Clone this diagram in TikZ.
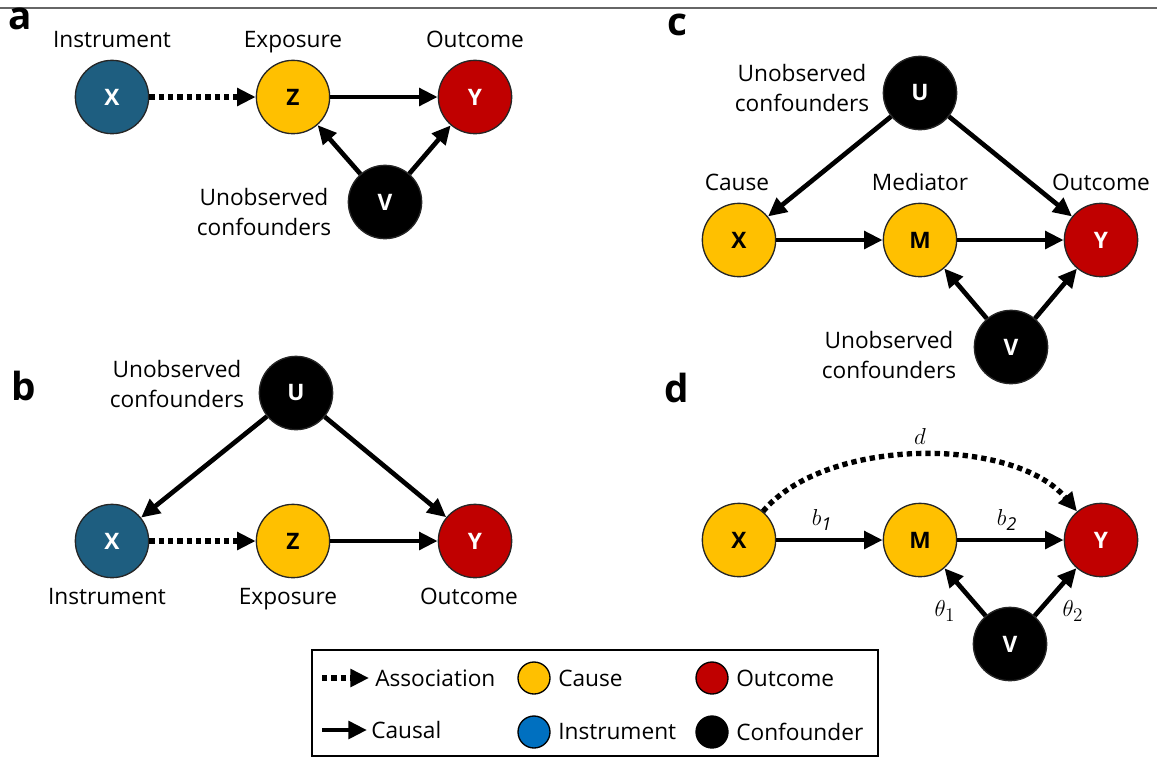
\documentclass[tikz,border=0pt]{standalone}
\usepackage{fontspec}
\setmainfont{Open Sans}
\usetikzlibrary{arrows.meta,positioning}
\definecolor{causeyellow}{RGB}{255,192,0}
\definecolor{outcomered}{RGB}{192,0,0}
\definecolor{instrteal}{RGB}{30,94,128}
\definecolor{keyblue}{RGB}{0,112,192}

\begin{document}
\begin{tikzpicture}[
      x=0.75pt, y=-0.75pt,
      var/.style={circle, draw=black!85, line width=1pt, minimum size=55pt, inner sep=0pt,
                  font=\fontsize{17}{20}\selectfont\bfseries},
      cause/.style={var, fill=causeyellow, text=black},
      outc/.style={var, fill=outcomered, text=white},
      instr/.style={var, fill=instrteal, text=white},
      conf/.style={var, fill=black, text=white},
      lab/.style={font=\fontsize{17}{23}\selectfont, align=center, inner sep=0pt},
      panel/.style={font=\fontsize{29}{30}\selectfont\bfseries, inner sep=0pt},
      coef/.style={font=\fontsize{19}{20}\selectfont, inner sep=0pt},
      causal/.style={-{Triangle[length=14pt, width=13pt]}, line width=3.5pt},
      assoc/.style={causal, line width=4pt, dash pattern=on 4pt off 3pt},
      key/.style={circle, draw=black, line width=1pt, minimum size=24pt, inner sep=0pt},
    ]
    \useasboundingbox (0,0) rectangle (1157,758);
    \draw[black!60, line width=1.2pt] (0,8) -- (1157,8);

    % panel a
    \node[panel] (pa) at (20,19) {a};
    \node[instr] (Xa) at (112,97) {X};
    \node[cause] (Za) at (293,97) {Z};
    \node[outc] (Ya) at (475,97) {Y};
    \node[conf] (Va) at (385,202) {V};
    \node[lab, anchor=base] (Xalab) at (112,47) {Instrument};
    \node[lab, anchor=base] (Zalab) at (293,47) {Exposure};
    \node[lab, anchor=base] (Yalab) at (475,47) {Outcome};
    \node[lab] (Valab) at (264,212) {Unobserved\\confounders};
    \draw[assoc] (Xa) -- (Za);
    \draw[causal] (Za) -- (Ya);
    \draw[causal] (Va) -- (Za);
    \draw[causal] (Va) -- (Ya);

    % panel b
    \node[panel] (pb) at (24,386) {b};
    \node[conf] (Ub) at (296,393) {U};
    \node[instr] (Xb) at (112,541) {X};
    \node[cause] (Zb) at (293,541) {Z};
    \node[outc] (Yb) at (475,541) {Y};
    \node[lab] (Ublab) at (177,384) {Unobserved\\confounders};
    \node[lab, anchor=base] (Xblab) at (107,604) {Instrument};
    \node[lab, anchor=base] (Zblab) at (288,604) {Exposure};
    \node[lab, anchor=base] (Yblab) at (469,604) {Outcome};
    \draw[causal] (Ub) -- (Xb);
    \draw[causal] (Ub) -- (Yb);
    \draw[assoc] (Xb) -- (Zb);
    \draw[causal] (Zb) -- (Yb);

    % panel c
    \node[panel] (pc) at (677,25) {c};
    \node[conf] (Uc) at (920,93) {U};
    \node[cause] (Xc) at (739,240) {X};
    \node[cause] (Mc) at (920,240) {M};
    \node[outc] (Yc) at (1101,240) {Y};
    \node[conf] (Vc) at (1011,347) {V};
    \node[lab] (Uclab) at (802,88) {Unobserved\\confounders};
    \node[lab, anchor=base] (Xclab) at (737,190) {Cause};
    \node[lab, anchor=base] (Mclab) at (920,190) {Mediator};
    \node[lab, anchor=base] (Yclab) at (1101,190) {Outcome};
    \node[lab] (Vclab) at (889,355) {Unobserved\\confounders};
    \draw[causal] (Uc) -- (Xc);
    \draw[causal] (Uc) -- (Yc);
    \draw[causal] (Xc) -- (Mc);
    \draw[causal] (Mc) -- (Yc);
    \draw[causal] (Vc) -- (Mc);
    \draw[causal] (Vc) -- (Yc);

    % panel d
    \node[panel] (pd) at (677,388) {d};
    \node[cause] (Xd) at (739,540) {X};
    \node[cause] (Md) at (920,540) {M};
    \node[outc] (Yd) at (1101,540) {Y};
    \node[conf] (Vd) at (1010,644) {V};
    \draw[assoc] (Xd) to[out=50, in=130, looseness=0.8]
      node[coef, midway, above=6pt] (dlab) {$d$} (Yd);
    \draw[causal] (Xd) -- (Md);
    \draw[causal] (Md) -- (Yd);
    \draw[causal] (Vd) -- (Md);
    \draw[causal] (Vd) -- (Yd);
    \node[coef] (b1lab) at (822,520) {$b_{\mathit{1}}$};
    \node[coef] (b2lab) at (1007,520) {$b_{\mathit{2}}$};
    \node[coef] (t1lab) at (945,611) {$\theta_1$};
    \node[coef] (t2lab) at (1073,611) {$\theta_2$};

    % legend
    \draw[line width=1.5pt] (312,650) rectangle (878,756);
    \coordinate (k1s) at (322,678);
    \coordinate (k1e) at (369,678);
    \coordinate (k2s) at (322,730);
    \coordinate (k2e) at (367,730);
    \draw[assoc] (k1s) -- (k1e);
    \draw[causal] (k2s) -- (k2e);
    \node[lab, anchor=west] (assoclab) at (375,678) {Association};
    \node[lab, anchor=west] (causallab) at (371,730) {Causal};
    \node[key, fill=causeyellow] (kcause) at (534,678) {};
    \node[key, fill=keyblue] (kinstr) at (534,732) {};
    \node[key, fill=outcomered] (koutc) at (712,678) {};
    \node[key, fill=black] (kconf) at (712,732) {};
    \node[lab, anchor=west] (kcauselab) at (558,678) {Cause};
    \node[lab, anchor=west] (kinstrlab) at (558,732) {Instrument};
    \node[lab, anchor=west] (koutclab) at (736,678) {Outcome};
    \node[lab, anchor=west] (kconflab) at (736,732) {Confounder};
  \end{tikzpicture}
\end{document}
